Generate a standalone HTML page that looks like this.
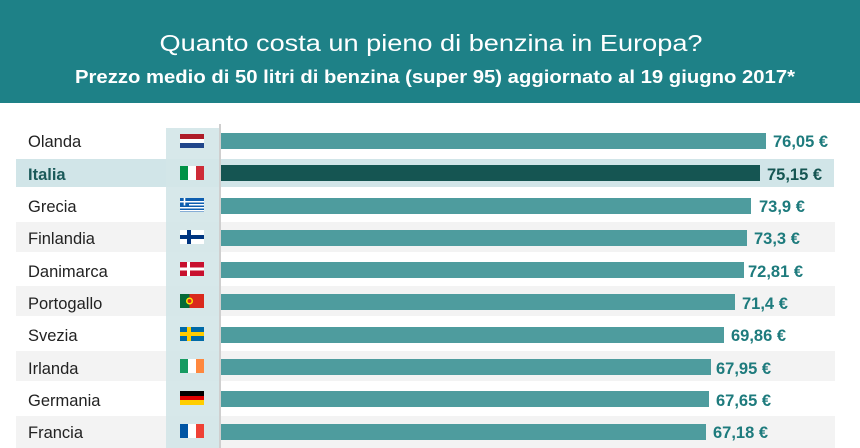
<!DOCTYPE html>
<html><head><meta charset="utf-8"><style>
html,body{margin:0;padding:0;background:#fff}
svg{display:block;font-family:"Liberation Sans",sans-serif}
</style></head><body>
<svg width="860" height="448" viewBox="0 0 860 448" xmlns="http://www.w3.org/2000/svg">
<rect x="0" y="0" width="860" height="103" fill="#1e8187"/>
<text x="431" y="51" fill="#fff" font-size="23" text-anchor="middle" textLength="543" lengthAdjust="spacingAndGlyphs">Quanto costa un pieno di benzina in Europa?</text>
<text x="435" y="83" fill="#fff" font-size="18" font-weight="bold" text-anchor="middle" textLength="720" lengthAdjust="spacingAndGlyphs">Prezzo medio di 50 litri di benzina (super 95) aggiornato al 19 giugno 2017*</text>

<rect x="16" y="222" width="819" height="30" fill="#f3f3f3"/>
<rect x="16" y="286" width="819" height="30" fill="#f3f3f3"/>
<rect x="16" y="351" width="819" height="30" fill="#f3f3f3"/>
<rect x="16" y="416" width="819" height="32" fill="#f3f3f3"/>
<rect x="16" y="159" width="818" height="28" fill="#d1e5e8"/>
<rect x="166" y="128" width="53" height="320" fill="#d3e6e8" opacity="0.9"/>
<rect x="219" y="124" width="2" height="324" fill="#cfcfcf"/>

<g font-size="16.5" fill="#222">
<text x="28" y="147">Olanda</text>
<text x="28" y="180" font-weight="bold" fill="#1b5a5a">Italia</text>
<text x="28" y="212">Grecia</text>
<text x="28" y="244">Finlandia</text>
<text x="28" y="277">Danimarca</text>
<text x="28" y="309">Portogallo</text>
<text x="28" y="341">Svezia</text>
<text x="28" y="374">Irlanda</text>
<text x="28" y="406">Germania</text>
<text x="28" y="438">Francia</text>
</g>

<g fill="#4e9c9e">
<rect x="221" y="133" width="545" height="16"/>
<rect x="221" y="165" width="539" height="16" fill="#155552"/>
<rect x="221" y="198" width="530" height="16"/>
<rect x="221" y="230" width="526" height="16"/>
<rect x="221" y="262" width="523" height="16"/>
<rect x="221" y="294" width="514" height="16"/>
<rect x="221" y="327" width="503" height="16"/>
<rect x="221" y="359" width="490" height="16"/>
<rect x="221" y="391" width="488" height="16"/>
<rect x="221" y="424" width="485" height="16"/>
</g>
<g font-size="16.5" font-weight="bold" fill="#1e7b7d">
<text x="773" y="147">76,05 €</text>
<text x="767" y="180" fill="#155552">75,15 €</text>
<text x="759" y="212">73,9 €</text>
<text x="754" y="244">73,3 €</text>
<text x="748" y="277">72,81 €</text>
<text x="742" y="309">71,4 €</text>
<text x="731" y="341">69,86 €</text>
<text x="716" y="374">67,95 €</text>
<text x="716" y="406">67,65 €</text>
<text x="713" y="438">67,18 €</text>
</g>

<g transform="translate(180,134)"><rect width="24" height="5" fill="#ae1c28"/><rect y="5" width="24" height="4" fill="#fff"/><rect y="9" width="24" height="5" fill="#21468b"/></g>
<g transform="translate(180,166)"><rect width="8" height="14" fill="#009246"/><rect x="8" width="8" height="14" fill="#fff"/><rect x="16" width="8" height="14" fill="#ce2b37"/></g>
<g transform="translate(180,198)"><rect width="24" height="14" fill="#0d5eaf"/><rect y="3" width="24" height="1.5" fill="#fff"/><rect y="6" width="24" height="1.5" fill="#fff"/><rect y="9" width="24" height="1.5" fill="#fff"/><rect y="12" width="24" height="1.5" fill="#fff"/><rect width="9" height="7.5" fill="#0d5eaf"/><rect x="3.7" width="1.6" height="7.5" fill="#fff"/><rect y="3" width="9" height="1.5" fill="#fff"/></g>
<g transform="translate(180,230)"><rect width="24" height="14" fill="#fff"/><rect x="7" width="4" height="14" fill="#003580"/><rect y="5" width="24" height="4" fill="#003580"/></g>
<g transform="translate(180,262)"><rect width="24" height="14" fill="#c8102e"/><rect x="7" width="3" height="14" fill="#fff"/><rect y="5.5" width="24" height="3" fill="#fff"/></g>
<g transform="translate(180,294)"><rect width="24" height="14" fill="#da291c"/><rect width="9.5" height="14" fill="#046a38"/><circle cx="9.5" cy="7" r="3.5" fill="#ffe900"/><circle cx="9.5" cy="7" r="2" fill="#da291c"/></g>
<g transform="translate(180,327)"><rect width="24" height="14" fill="#006aa7"/><rect x="7" width="4" height="14" fill="#fecc00"/><rect y="5" width="24" height="4" fill="#fecc00"/></g>
<g transform="translate(180,359)"><rect width="8" height="14" fill="#169b62"/><rect x="8" width="8" height="14" fill="#fff"/><rect x="16" width="8" height="14" fill="#ff883e"/></g>
<g transform="translate(180,391)"><rect width="24" height="5" fill="#000"/><rect y="5" width="24" height="4" fill="#dd0000"/><rect y="9" width="24" height="5" fill="#ffce00"/></g>
<g transform="translate(180,424)"><rect width="8" height="14" fill="#0055a4"/><rect x="8" width="8" height="14" fill="#fff"/><rect x="16" width="8" height="14" fill="#ef4135"/></g>
</svg>
</body></html>
